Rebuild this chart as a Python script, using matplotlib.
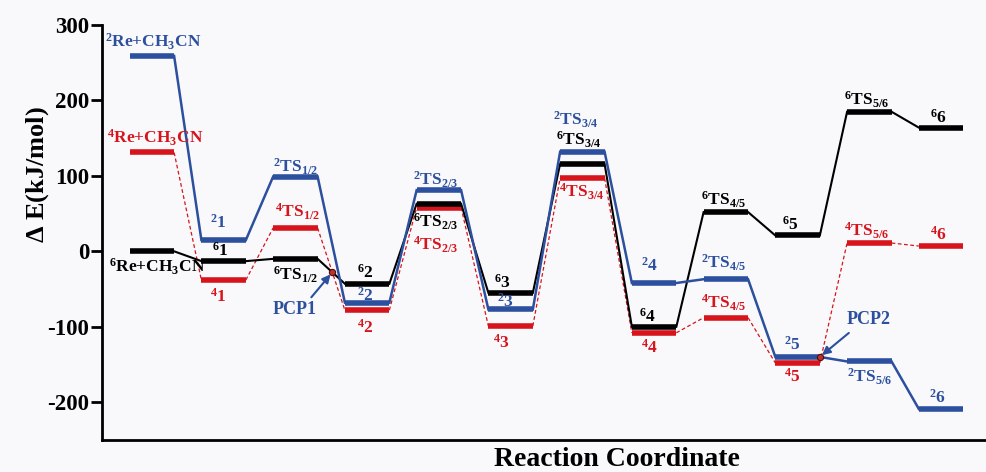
import matplotlib
matplotlib.use('Agg')
import matplotlib.pyplot as plt
import numpy as np

plt.rcParams['font.family'] = ['Liberation Serif', 'DejaVu Serif']
plt.rcParams['font.weight'] = 'bold'
plt.rcParams['mathtext.fontset'] = 'custom'
plt.rcParams['mathtext.rm'] = 'Liberation Serif:bold'
plt.rcParams['mathtext.it'] = 'Liberation Serif:italic:bold'
plt.rcParams['mathtext.bf'] = 'Liberation Serif:bold'
plt.rcParams['mathtext.default'] = 'rm'
plt.rcParams['axes.unicode_minus'] = False

# species along the reaction coordinate
names = [r'Re+CH$_3$CN', '1', r'TS$_{1/2}$', '2', r'TS$_{2/3}$', '3',
         r'TS$_{3/4}$', '4', r'TS$_{4/5}$', '5', r'TS$_{5/6}$', '6']

# relative energies, kJ/mol
E_doublet = [259, 15, 99, -68, 81, -77, 132, -42, -37, -140, -146, -209]
E_quartet = [131, -38, 31, -78, 58, -99, 97, -108, -88, -148, 11, 7]
E_sextet = [0, -13, -10, -43, 63, -55, 116, -100, 52, 21, 185, 164]

# label offsets (pixels) from level centre
off_doublet = [(1, 14), (-5, 17), (0, 10), (-2, 7), (-3, 10), (-5, 8),
               (-7, 32), (-5, 17), (-2, 16), (-5, 12), (0, -15), (-4, 11)]
off_quartet = [(3, 15), (-5, -17), (2, 16), (-2, -18), (-3, -37), (-9, -17),
               (-1, -14), (-5, -15), (-2, 15), (-5, -14), (-3, 12), (-3, 11)]
off_sextet = [(5, -16), (-3, 10), (0, -16), (-2, 11), (-3, -18), (-8, 10),
              (-4, 24), (-7, 10), (-2, 12), (-7, 11), (-3, 12), (-3, 10)]

blue = '#2c4f9e'
red = '#d7141c'
black = '#000000'
hw = 0.31    # half width of a level
dpi = 100
pt = 72.0 / dpi

fig = plt.figure(figsize=(9.87, 4.72), dpi=dpi, facecolor='#f9f9fb')
ax = fig.add_axes([0.103, 0.068, 0.897, 0.879])
ax.set_facecolor('#f9f9fb')

x = np.arange(len(names))


def draw(E, color, mult, offs, conn_lw, conn_ls, z):
    for i in range(len(E)):
        ax.plot([x[i] - hw, x[i] + hw], [E[i], E[i]], color=color, lw=4,
                solid_capstyle='butt', zorder=z + 1)
        if i < len(E) - 1:
            ax.plot([x[i] + hw, x[i + 1] - hw], [E[i], E[i + 1]], color=color,
                    lw=conn_lw, ls=conn_ls, zorder=z)
        ax.annotate(r'$^{%d}$' % mult + names[i], xy=(x[i], E[i]),
                    xytext=(offs[i][0] * pt, offs[i][1] * pt),
                    textcoords='offset points', ha='center', va='center',
                    color=color, fontsize=12.5, fontweight='bold', zorder=10)


draw(E_quartet, red, 4, off_quartet, 0.9, (0, (3, 2)), 2)
draw(E_sextet, black, 6, off_sextet, 1.5, '-', 4)
draw(E_doublet, blue, 2, off_doublet, 1.8, '-', 6)

# PCP1: crossing of sextet and quartet between TS1/2 and 2
t = (E_quartet[2] - E_sextet[2]) / ((E_sextet[3] - E_sextet[2]) - (E_quartet[3] - E_quartet[2]))
p1x = x[2] + hw + t * (1 - 2 * hw)
p1y = E_sextet[2] + t * (E_sextet[3] - E_sextet[2])
# PCP2: end of doublet 5
p2x = x[9] + hw
p2y = E_doublet[9]

for px, py, lab, toff, aoff in [(p1x, p1y, 'PCP1', (-38, -37), (-21, -25)),
                                (p2x, p2y, 'PCP2', (49, 37), (29, 24))]:
    ax.plot(px, py, 'o', ms=4.5, mfc='#c0302a', mec='#4a1010', mew=0.8, zorder=12)
    ax.annotate('', xy=(px, py), xytext=(aoff[0] * pt, aoff[1] * pt),
                textcoords='offset points', xycoords='data',
                arrowprops=dict(arrowstyle='-|>', color=blue, lw=1.5,
                                mutation_scale=12, shrinkA=0, shrinkB=2),
                annotation_clip=False, zorder=11)
    ax.annotate(lab, xy=(px, py), xytext=(toff[0] * pt, toff[1] * pt),
                textcoords='offset points', ha='center', va='center',
                color=blue, fontsize=13, fontweight='bold', zorder=11)

ax.set_xlim(-0.70, 11.64)
ax.set_ylim(-250, 300)
ax.set_yticks([300, 200, 100, 0, -100, -200])
ax.set_xticks([])
ax.spines['top'].set_visible(False)
ax.spines['right'].set_visible(False)
ax.spines['left'].set_linewidth(2)
ax.spines['bottom'].set_linewidth(2)
ax.tick_params(axis='y', direction='out', length=8, width=2, labelsize=16.5, pad=1)
for lbl in ax.get_yticklabels():
    lbl.set_fontweight('bold')

fig.text(0.038, 0.63, r'$\Delta$ E(kJ/mol)', rotation=90, ha='center', va='center',
         fontsize=19, fontweight='bold')
fig.text(0.625, 0.052, 'Reaction Coordinate', ha='center', va='top',
         fontsize=20, fontweight='bold')

fig.savefig('out.png', dpi=dpi, facecolor=fig.get_facecolor())
